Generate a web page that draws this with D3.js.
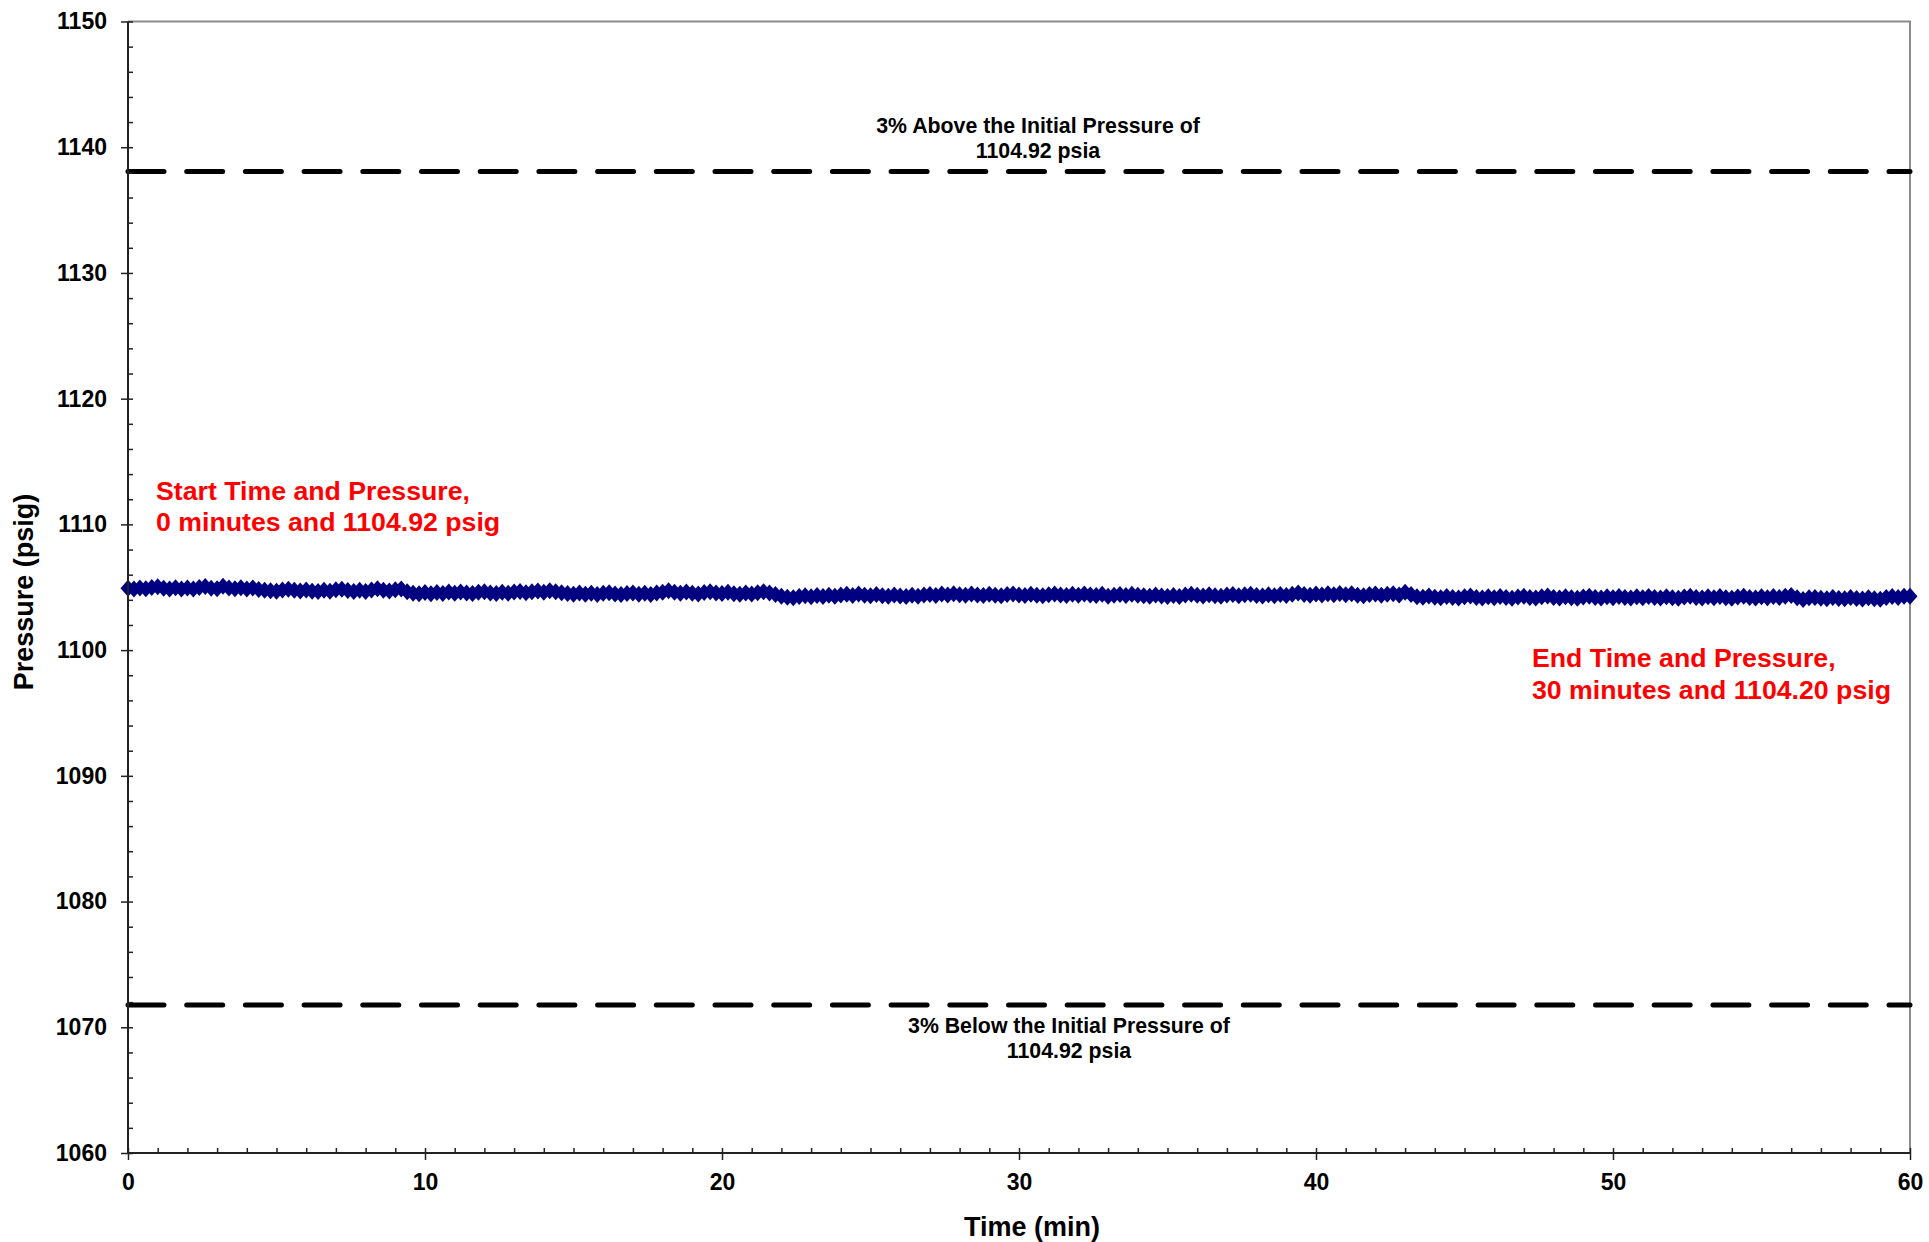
<!DOCTYPE html>
<html>
<head>
<meta charset="utf-8">
<script src="https://cdn.jsdelivr.net/npm/d3@7"></script>
<style>
  body { margin: 0; background: #fff; }
  text { font-family: "Liberation Sans", Arial, sans-serif; font-weight: bold; }
</style>
</head>
<body>
<svg id="chart" width="1929" height="1242"></svg>
<script>
// readings, one every 0.2 min, 5 per row (row = one minute)
const sampleStep = 0.2;
const pressure = [
  1104.92, 1104.86, 1104.95, 1104.88, 1104.99,
  1105.04, 1104.93, 1104.87, 1104.96, 1104.86,
  1104.95, 1104.86, 1104.98, 1105.05, 1104.92,
  1104.88, 1105.08, 1104.95, 1104.89, 1104.97,
  1104.86, 1104.95, 1104.82, 1104.77, 1104.72,
  1104.68, 1104.78, 1104.84, 1104.76, 1104.70,
  1104.79, 1104.69, 1104.66, 1104.76, 1104.68,
  1104.80, 1104.85, 1104.74, 1104.67, 1104.76,
  1104.67, 1104.78, 1104.88, 1104.77, 1104.70,
  1104.80, 1104.86, 1104.64, 1104.53, 1104.48,
  1104.58, 1104.49, 1104.59, 1104.51, 1104.62,
  1104.53, 1104.63, 1104.54, 1104.50, 1104.60,
  1104.65, 1104.55, 1104.51, 1104.61, 1104.52,
  1104.62, 1104.67, 1104.56, 1104.65, 1104.70,
  1104.60, 1104.72, 1104.64, 1104.56, 1104.50,
  1104.45, 1104.54, 1104.44, 1104.53, 1104.43,
  1104.52, 1104.56, 1104.46, 1104.42, 1104.51,
  1104.55, 1104.45, 1104.53, 1104.43, 1104.54,
  1104.60, 1104.73, 1104.60, 1104.53, 1104.62,
  1104.52, 1104.47, 1104.58, 1104.65, 1104.55,
  1104.50, 1104.60, 1104.49, 1104.45, 1104.55,
  1104.46, 1104.57, 1104.64, 1104.55, 1104.42,
  1104.28, 1104.20, 1104.16, 1104.27, 1104.33,
  1104.24, 1104.35, 1104.26, 1104.37, 1104.28,
  1104.39, 1104.44, 1104.34, 1104.47, 1104.37,
  1104.32, 1104.42, 1104.33, 1104.29, 1104.39,
  1104.30, 1104.26, 1104.36, 1104.28, 1104.38,
  1104.43, 1104.35, 1104.46, 1104.38, 1104.48,
  1104.40, 1104.36, 1104.47, 1104.39, 1104.35,
  1104.45, 1104.37, 1104.33, 1104.43, 1104.47,
  1104.38, 1104.34, 1104.44, 1104.36, 1104.32,
  1104.41, 1104.46, 1104.38, 1104.34, 1104.44,
  1104.36, 1104.47, 1104.39, 1104.34, 1104.45,
  1104.28, 1104.37, 1104.43, 1104.35, 1104.45,
  1104.37, 1104.33, 1104.29, 1104.38, 1104.30,
  1104.26, 1104.35, 1104.27, 1104.39, 1104.44,
  1104.36, 1104.31, 1104.41, 1104.33, 1104.29,
  1104.38, 1104.42, 1104.32, 1104.40, 1104.45,
  1104.35, 1104.31, 1104.41, 1104.33, 1104.43,
  1104.34, 1104.44, 1104.54, 1104.42, 1104.37,
  1104.47, 1104.39, 1104.49, 1104.41, 1104.50,
  1104.40, 1104.48, 1104.37, 1104.33, 1104.42,
  1104.46, 1104.36, 1104.44, 1104.48, 1104.38,
  1104.60, 1104.43, 1104.24, 1104.20, 1104.30,
  1104.21, 1104.17, 1104.27, 1104.19, 1104.15,
  1104.24, 1104.30, 1104.19, 1104.15, 1104.25,
  1104.17, 1104.27, 1104.18, 1104.13, 1104.23,
  1104.28, 1104.18, 1104.14, 1104.24, 1104.30,
  1104.19, 1104.15, 1104.25, 1104.17, 1104.13,
  1104.23, 1104.29, 1104.18, 1104.14, 1104.24,
  1104.16, 1104.26, 1104.18, 1104.14, 1104.24,
  1104.17, 1104.27, 1104.19, 1104.15, 1104.25,
  1104.16, 1104.13, 1104.23, 1104.28, 1104.18,
  1104.14, 1104.24, 1104.16, 1104.26, 1104.17,
  1104.13, 1104.23, 1104.28, 1104.18, 1104.15,
  1104.25, 1104.16, 1104.26, 1104.18, 1104.28,
  1104.34, 1104.16, 1104.03, 1104.16, 1104.18,
  1104.13, 1104.09, 1104.19, 1104.11, 1104.08,
  1104.18, 1104.10, 1104.06, 1104.16, 1104.08,
  1104.04, 1104.18, 1104.26, 1104.18, 1104.29,
  1104.28
];

const xTicks = [0, 10, 20, 30, 40, 50, 60];
const yTicks = [1060, 1070, 1080, 1090, 1100, 1110, 1120, 1130, 1140, 1150];
const upperLimit = 1138.07;
const lowerLimit = 1071.77;
const upperLabel = ["3% Above the Initial Pressure of", "1104.92 psia"];
const lowerLabel = ["3% Below the Initial Pressure of", "1104.92 psia"];
const startLabel = ["Start Time and Pressure,", "0 minutes and 1104.92 psig"];
const endLabel = ["End Time and Pressure,", "30 minutes and 1104.20 psig"];

const data = pressure.map((p, i) => ({t: +(i * sampleStep).toFixed(1), p: p}));

const plot = {left: 128, right: 1910, top: 21.5, bottom: 1153};
const svg = d3.select("#chart");

const x = d3.scaleLinear().domain([0, 60]).range([plot.left, plot.right]);
const y = d3.scaleLinear().domain([1060, 1150]).range([plot.bottom, plot.top]);

// frame (top / right in grey)
svg.append("path")
  .attr("d", `M${plot.left},${plot.top}H${plot.right}V${plot.bottom}`)
  .attr("fill", "none").attr("stroke", "#8c8c8c").attr("stroke-width", 2);

// limit lines
[upperLimit, lowerLimit].forEach(v => {
  svg.append("line")
    .attr("x1", plot.left).attr("x2", plot.right)
    .attr("y1", y(v)).attr("y2", y(v))
    .attr("stroke", "#000").attr("stroke-width", 5)
    .attr("stroke-linecap", "round")
    .attr("stroke-dasharray", "36,22.7");
});

// series
const diamond = "M0,-8.5L7.5,0L0,8.5L-7.5,0Z";
svg.append("path").datum(data)
  .attr("fill", "none").attr("stroke", "#000080").attr("stroke-width", 2)
  .attr("d", d3.line().x(d => x(d.t)).y(d => y(d.p)));
svg.append("g").selectAll("path").data(data).join("path")
  .attr("d", diamond)
  .attr("transform", d => `translate(${x(d.t)},${y(d.p)})`)
  .attr("fill", "#000080");

// axes: inner minor ticks, then outer major ticks with labels
function styleAxis(g) {
  g.select(".domain").remove();
  g.selectAll(".tick line").attr("stroke", "#222").attr("stroke-width", 1.5);
  g.selectAll("text").attr("fill", "#000").style("font-size", "23px");
}

svg.append("g").attr("transform", `translate(${plot.left},0)`)
  .call(d3.axisLeft(y).tickValues(d3.range(1060, 1151, 2)).tickSize(-5).tickFormat(""))
  .call(styleAxis);
svg.append("g").attr("transform", `translate(${plot.left},0)`)
  .call(d3.axisLeft(y).tickValues(yTicks).tickSize(7).tickPadding(14).tickFormat(d3.format("d")))
  .call(styleAxis);

svg.append("g").attr("transform", `translate(0,${plot.bottom})`)
  .call(d3.axisBottom(x).tickValues(d3.range(0, 61, 1)).tickSize(-5).tickFormat(""))
  .call(styleAxis);
svg.append("g").attr("transform", `translate(0,${plot.bottom})`)
  .call(d3.axisBottom(x).tickValues(xTicks).tickSize(7).tickPadding(14).tickFormat(d3.format("d")))
  .call(styleAxis);

// axis lines
svg.append("path")
  .attr("d", `M${plot.left},${plot.top}V${plot.bottom}H${plot.right}`)
  .attr("fill", "none").attr("stroke", "#222").attr("stroke-width", 2);

// axis titles
svg.append("text")
  .attr("x", 1032).attr("y", 1236)
  .attr("text-anchor", "middle").style("font-size", "27px")
  .text("Time (min)");
svg.append("text")
  .attr("transform", "translate(33,592) rotate(-90)")
  .attr("text-anchor", "middle").style("font-size", "27px")
  .text("Pressure (psig)");

// annotations
function lines(textLines, xPos, yPos, gap, anchor, size, color) {
  const t = svg.append("text")
    .attr("text-anchor", anchor).style("font-size", size + "px").attr("fill", color);
  textLines.forEach((s, i) => {
    t.append("tspan").attr("x", xPos).attr("y", yPos + i * gap).text(s);
  });
}
lines(upperLabel, 1038, 133, 24.5, "middle", 21.3, "#000");
lines(lowerLabel, 1069, 1033, 24.5, "middle", 21.3, "#000");
lines(startLabel, 156, 499.5, 31.5, "start", 26.7, "#ff0000");
lines(endLabel, 1532, 667, 32, "start", 26.7, "#ff0000");
</script>
</body>
</html>
